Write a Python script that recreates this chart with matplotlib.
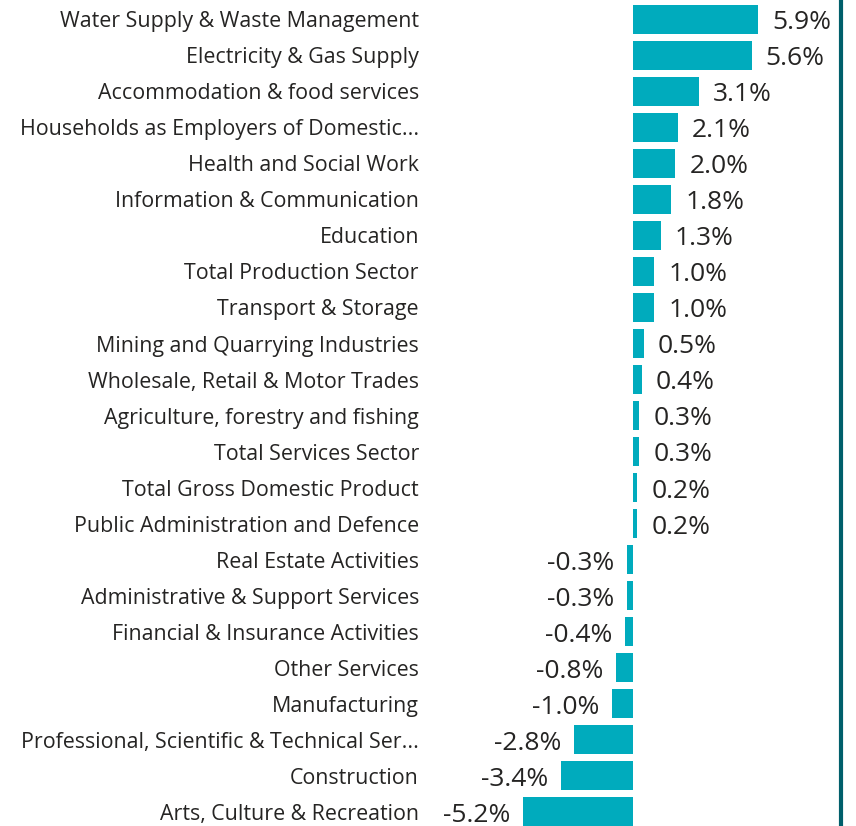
import matplotlib.pyplot as plt
import numpy as np

# data, top to bottom
categories = [
    "Water Supply & Waste Management",
    "Electricity & Gas Supply",
    "Accommodation & food services",
    "Households as Employers of Domestic...",
    "Health and Social Work",
    "Information & Communication",
    "Education",
    "Total Production Sector",
    "Transport & Storage",
    "Mining and Quarrying Industries",
    "Wholesale, Retail & Motor Trades",
    "Agriculture, forestry and fishing",
    "Total Services Sector",
    "Total Gross Domestic Product",
    "Public Administration and Defence",
    "Real Estate Activities",
    "Administrative & Support Services",
    "Financial & Insurance Activities",
    "Other Services",
    "Manufacturing",
    "Professional, Scientific & Technical Ser...",
    "Construction",
    "Arts, Culture & Recreation",
]
values = [5.9, 5.6, 3.1, 2.1, 2.0, 1.8, 1.3, 1.0, 1.0, 0.5, 0.4, 0.3, 0.3, 0.2, 0.2,
          -0.3, -0.3, -0.4, -0.8, -1.0, -2.8, -3.4, -5.2]

bar_color = "#00ABBD"
line_color = "#005F6B"
text_color = "#252423"

plt.rcParams['font.family'] = ['Open Sans', 'DejaVu Sans']

W, H = 856, 826
left_px, right_px = 430, 841
fig = plt.figure(figsize=(W / 100, H / 100), dpi=100)
ax = fig.add_axes([left_px / W, 0, (right_px - left_px) / W, 1])

y = np.arange(len(categories))
ax.barh(y, values, height=0.8, color=bar_color)

ax.set_xlim(-9.58, 9.81)
ax.set_ylim(22.40, -0.54)

ax.set_yticks(y)
ax.set_yticklabels(categories, fontsize=15.4, color=text_color)
ax.tick_params(axis='y', length=0, pad=8)
ax.set_xticks([])

for s in ['top', 'left', 'bottom']:
    ax.spines[s].set_visible(False)
ax.spines['right'].set_color(line_color)
ax.spines['right'].set_linewidth(3)

for yi, v in zip(y, values):
    if v >= 0:
        ax.annotate(f"{v:.1f}%", (v, yi), xytext=(10, -2.5), textcoords='offset points',
                    ha='left', va='center', fontsize=19, color=text_color)
    else:
        ax.annotate(f"{v:.1f}%", (v, yi), xytext=(-9, -2.5), textcoords='offset points',
                    ha='right', va='center', fontsize=19, color=text_color)

fig.savefig("out.png", dpi=100)
